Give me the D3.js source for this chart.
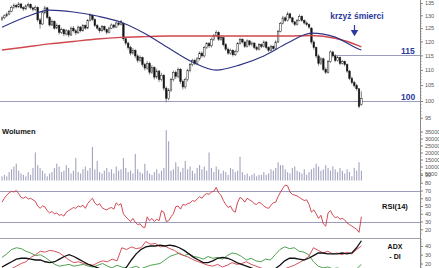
<!DOCTYPE html>
<html>
<head>
<meta charset="utf-8">
<script src="https://cdn.jsdelivr.net/npm/d3@7"></script>
<style>
  body { margin: 0; background: #fff; }
  #wrapper svg { display: block; font-family: "Liberation Sans", Arial, sans-serif; }
</style>
</head>
<body>
<div id="wrapper"></div>
<script>
// daily candles
const openPrices = [
  128.4, 129.0, 129.8, 130.5, 131.6, 133.2, 134.0, 133.4, 134.6, 133.1,
  132.6, 133.8, 134.3, 133.0, 132.4, 133.2, 128.2, 126.6, 131.0, 133.0,
  129.2, 126.2, 127.6, 125.0, 126.0, 123.4, 124.4, 122.8, 124.0, 122.4,
  125.0, 124.0, 123.2, 125.4, 124.0, 126.0, 125.0, 128.0, 130.0, 128.4,
  126.0, 125.0, 124.0, 125.6, 124.4, 123.4, 125.0, 126.2, 125.4, 127.0,
  126.4, 126.8, 121.0, 119.4, 117.8, 115.8, 116.8, 114.8, 113.2, 114.2,
  111.8, 110.6, 112.2, 109.2, 110.8, 107.6, 109.6, 106.8, 108.2, 104.0,
  100.8, 103.4, 106.8, 109.2, 107.8, 110.2, 106.2, 104.4, 106.8, 109.8,
  111.8, 113.2, 112.2, 113.8, 115.8, 114.8, 117.8, 119.2, 118.4, 120.8,
  122.2, 123.4, 120.8, 121.4, 118.8, 117.2, 115.8, 116.8, 115.2, 116.4,
  119.2, 120.8, 119.8, 118.2, 120.2, 118.8, 119.4, 117.8, 117.2, 118.8,
  118.2, 119.8, 117.8, 116.8, 118.2, 117.4, 119.8, 123.8, 126.8, 129.0,
  128.0, 130.6, 129.0, 127.4, 126.4, 128.0, 129.6, 128.0, 127.0, 126.4,
  125.0, 119.8, 117.8, 114.8, 112.2, 113.8, 110.2, 109.2, 112.8, 116.2,
  114.8, 113.2, 114.2, 112.2, 112.8, 111.8, 109.6, 107.2, 105.8, 104.8,
  103.8, 99.0,
]
const highPrices = [
  129.6, 130.4, 131.2, 132.2, 133.9, 134.9, 134.6, 135.4, 135.0, 133.6,
  134.4, 135.2, 134.8, 133.5, 134.0, 133.6, 129.0, 131.6, 133.8, 133.4,
  129.8, 128.4, 128.0, 126.8, 126.4, 125.2, 124.8, 124.6, 124.4, 125.6,
  125.8, 124.6, 126.0, 125.8, 126.6, 126.4, 128.6, 130.8, 130.4, 128.8,
  126.6, 125.4, 126.2, 126.0, 124.8, 125.6, 126.8, 126.6, 127.6, 127.4,
  128.2, 127.2, 121.6, 120.0, 118.4, 117.6, 117.2, 115.4, 115.0, 114.6,
  112.4, 113.0, 112.8, 111.6, 111.2, 110.4, 110.0, 109.0, 108.6, 104.6,
  104.0, 107.4, 109.8, 109.8, 110.8, 110.6, 106.8, 107.4, 110.4, 112.4,
  113.8, 113.8, 114.4, 116.4, 116.4, 118.4, 119.8, 119.8, 121.4, 122.8,
  124.2, 123.8, 122.2, 121.8, 119.4, 117.8, 117.4, 117.2, 117.0, 119.8,
  121.4, 121.2, 120.2, 120.8, 120.6, 120.0, 119.8, 118.4, 119.4, 119.2,
  120.4, 120.2, 118.2, 118.8, 118.6, 120.4, 124.4, 127.4, 129.8, 129.6,
  131.4, 131.0, 129.4, 127.8, 128.6, 130.4, 130.0, 128.4, 127.6, 126.8,
  125.4, 120.4, 118.2, 115.4, 114.4, 114.2, 110.8, 113.4, 116.8, 116.6,
  115.4, 114.8, 114.6, 113.4, 113.2, 112.2, 110.0, 107.8, 106.4, 105.4,
  104.0, 103.0,
]
const lowPrices = [
  127.8, 128.5, 129.3, 130.0, 131.2, 132.6, 132.8, 133.0, 132.6, 131.8,
  132.0, 133.2, 132.4, 131.6, 131.8, 127.4, 124.8, 126.2, 130.4, 128.6,
  125.6, 125.8, 124.4, 124.6, 122.6, 122.8, 122.0, 122.2, 121.6, 122.0,
  123.4, 122.4, 122.8, 123.4, 123.6, 124.4, 124.6, 127.6, 127.8, 125.4,
  124.4, 123.2, 123.6, 123.8, 122.6, 123.0, 124.6, 124.8, 125.0, 125.8,
  126.0, 120.2, 118.6, 117.0, 115.0, 115.2, 114.0, 112.4, 112.6, 111.0,
  109.8, 110.0, 108.4, 108.6, 106.8, 107.0, 106.0, 106.2, 103.2, 99.6,
  100.2, 102.8, 106.2, 107.0, 107.2, 105.4, 103.6, 103.8, 106.2, 109.2,
  111.2, 111.6, 111.6, 113.2, 114.2, 114.2, 117.2, 117.6, 117.8, 120.2,
  121.6, 120.2, 120.2, 118.2, 116.6, 115.2, 115.2, 114.6, 114.8, 116.0,
  118.8, 119.2, 117.6, 117.8, 118.2, 118.2, 117.2, 116.6, 116.8, 117.6,
  117.8, 117.2, 116.2, 116.4, 116.8, 117.0, 119.4, 123.4, 126.4, 127.4,
  127.6, 128.4, 126.8, 125.8, 126.0, 127.6, 127.4, 126.4, 125.8, 124.8,
  119.0, 117.0, 114.0, 111.4, 111.6, 109.6, 108.6, 108.8, 112.4, 114.2,
  112.6, 112.8, 111.6, 111.8, 111.2, 109.0, 106.6, 105.2, 104.2, 103.2,
  97.8, 98.6,
]
const closePrices = [
  129.0, 129.8, 130.5, 131.6, 133.2, 134.0, 133.4, 134.6, 133.1, 132.6,
  133.8, 134.3, 133.0, 132.4, 133.2, 128.2, 126.6, 131.0, 133.0, 129.2,
  126.2, 127.6, 125.0, 126.0, 123.4, 124.4, 122.8, 124.0, 122.4, 125.0,
  124.0, 123.2, 125.4, 124.0, 126.0, 125.0, 128.0, 130.0, 128.4, 126.0,
  125.0, 124.0, 125.6, 124.4, 123.4, 125.0, 126.2, 125.4, 127.0, 126.4,
  127.6, 121.0, 119.4, 117.8, 115.8, 116.8, 114.8, 113.2, 114.2, 111.8,
  110.6, 112.2, 109.2, 110.8, 107.6, 109.6, 106.8, 108.2, 104.0, 100.8,
  103.4, 106.8, 109.2, 107.8, 110.2, 106.2, 104.4, 106.8, 109.8, 111.8,
  113.2, 112.2, 113.8, 115.8, 114.8, 117.8, 119.2, 118.4, 120.8, 122.2,
  123.4, 120.8, 121.4, 118.8, 117.2, 115.8, 116.8, 115.2, 116.4, 119.2,
  120.8, 119.8, 118.2, 120.2, 118.8, 119.4, 117.8, 117.2, 118.8, 118.2,
  119.8, 117.8, 116.8, 118.2, 117.4, 119.8, 123.8, 126.8, 129.0, 128.0,
  130.6, 129.0, 127.4, 126.4, 128.0, 129.6, 128.0, 127.0, 126.4, 125.4,
  119.8, 117.8, 114.8, 112.2, 113.8, 110.2, 109.2, 112.8, 116.2, 114.8,
  113.2, 114.2, 112.2, 112.8, 111.8, 109.6, 107.2, 105.8, 104.8, 103.8,
  98.4, 100.8,
]
const volumes = [
  3000, 4000, 3000, 6000, 8000, 10000, 12000, 7000, 5000, 4000,
  3000, 6000, 4000, 9000, 20000, 11000, 9000, 7000, 5000, 3000,
  5000, 6000, 9000, 12000, 10000, 6000, 7000, 11000, 9000, 5000,
  7000, 16000, 6000, 5000, 8000, 10000, 7000, 9000, 24000, 8000,
  14000, 6000, 5000, 7000, 9000, 6000, 8000, 5000, 10000, 7000,
  8000, 16000, 9000, 6000, 7000, 5000, 19000, 8000, 6000, 5000,
  12000, 7000, 5000, 4000, 6000, 8000, 5000, 7000, 9000, 36000,
  28000, 7000, 8000, 13000, 10000, 6000, 9000, 14000, 8000, 10000,
  7000, 5000, 9000, 11000, 8000, 10000, 7000, 20000, 9000, 6000,
  10000, 8000, 5000, 7000, 6000, 4000, 9000, 8000, 6000, 7000,
  17000, 6000, 4000, 5000, 3000, 4000, 5000, 3000, 4000, 4000,
  6000, 4000, 5000, 8000, 7000, 9000, 13000, 11000, 11000, 8000,
  6000, 5000, 9000, 10000, 7000, 6000, 5000, 8000, 4000, 6000,
  8000, 9000, 12000, 10000, 7000, 8000, 11000, 9000, 7000, 10000,
  8000, 6000, 9000, 7000, 5000, 8000, 6000, 3000, 9000, 7000,
  13000, 7000,
]
const rsiValues = [
  55, 60, 64, 67, 69, 68, 70, 66, 61, 60,
  62, 59, 60, 58, 56, 50, 47, 50, 49, 44,
  41, 43, 40, 41, 38, 39, 37, 42, 44, 46,
  48, 47, 50, 49, 51, 47, 53, 57, 60, 54,
  51, 53, 48, 46, 45, 47, 48, 46, 54, 51,
  53, 40, 36, 33, 30, 34, 29, 26, 27, 23,
  22, 36, 31, 34, 30, 33, 31, 44, 42, 30,
  31, 36, 40, 49, 50, 46, 52, 51, 53, 54,
  57, 56, 59, 62, 60, 64, 66, 65, 68, 69,
  74, 67, 64, 57, 52, 48, 50, 44, 42, 55,
  61, 59, 55, 60, 58, 56, 53, 52, 55, 53,
  50, 48, 47, 51, 54, 55, 62, 68, 73, 77,
  76, 68, 65, 64, 63, 61, 59, 57, 58, 52,
  42, 45, 40, 34, 38, 27, 24, 41, 44, 38,
  35, 36, 33, 34, 32, 28, 26, 24, 22, 20,
  16, 36,
]

// moving averages, read every 10 sessions
const maDays = [0, 10, 20, 30, 40, 50, 60, 70, 80, 90, 100, 110, 120, 130, 140, 150, 151]
const maShort = [125.3, 129.3, 132.1, 131.3, 129.7, 127.3, 123.0, 117.6, 112.7, 109.9, 111.7, 114.8, 119.4, 123.1, 121.6, 117.2, 116.9]
const maLong = [116.9, 118.0, 119.1, 120.0, 120.9, 121.5, 121.8, 122.0, 122.0, 122.0, 122.0, 122.0, 122.0, 122.2, 121.2, 118.4, 118.0]

// ADX / DI, read every 2 sessions
const adxValues = [
  16, 19, 22, 25, 26, 26, 25, 24, 24, 22,
  21, 22, 25, 28, 30, 28, 25, 22, 19, 17,
  15, 13, 12, 11, 11, 12, 16, 24, 31, 36,
  39, 40, 40, 41, 40, 41, 40, 38, 35, 31,
  27, 24, 21, 21, 23, 26, 27, 26, 24, 21,
  19, 17, 15, 13, 12, 12, 12, 14, 18, 23,
  26, 26, 25, 24, 26, 29, 32, 32, 31, 31,
  31, 32, 31, 32, 38, 46,
]
const minusDI = [
  15, 13, 14, 17, 20, 22, 27, 30, 34, 33,
  35, 34, 32, 28, 24, 21, 22, 20, 19, 18,
  21, 23, 22, 25, 23, 38, 36, 39, 37, 38,
  45, 42, 43, 39, 40, 37, 35, 31, 29, 27,
  24, 22, 20, 18, 17, 19, 16, 18, 21, 19,
  20, 22, 19, 17, 15, 13, 12, 13, 12, 14,
  16, 18, 21, 24, 28, 38, 35, 32, 34, 31,
  32, 30, 33, 31, 36, 40,
]
const plusDI = [
  27, 31, 36, 38, 37, 34, 32, 29, 30, 27,
  23, 19, 17, 18, 19, 17, 18, 19, 17, 16,
  18, 20, 17, 15, 18, 16, 14, 15, 17, 14,
  16, 18, 19, 20, 24, 28, 30, 32, 29, 31,
  28, 27, 25, 28, 26, 27, 25, 29, 32, 31,
  28, 24, 26, 23, 22, 25, 24, 30, 36, 39,
  37, 38, 34, 33, 30, 22, 17, 15, 16, 14,
  15, 13, 14, 12, 14, 19,
]

// levels and ticks
const levelPrices = [115, 100]
const levelFromDay = [139, 0]
const priceTicks = [95, 100, 105, 110, 115, 120, 125, 130, 135]
const volumeTicks = [5000, 10000, 15000, 20000, 25000, 30000, 35000]
const rsiTicks = [20, 30, 40, 50, 60, 70, 80, 90]
const rsiLevels = [70, 30]
const adxTicks = [20, 30, 40]

function drawChart() {
  const n = closePrices.length
  const days = d3.range(n)

  const dimensions = {
    width: 439,
    height: 268,
    plotLeft: 2,
    plotRight: 361.4,
    axisX: 420,
  }

  const wrapper = d3.select("#wrapper")
    .append("svg")
      .attr("width", dimensions.width)
      .attr("height", dimensions.height)

  // scales
  const xScale = d3.scaleLinear()
    .domain([0, n - 1])
    .range([dimensions.plotLeft, dimensions.plotRight])
  const dmiX = d3.scaleLinear()
    .domain([0, adxValues.length - 1])
    .range([dimensions.plotLeft, dimensions.plotRight])
  const priceScale = d3.scaleLog()
    .domain([100, 135])
    .range([101, 3])
  const volumeScale = d3.scaleLinear()
    .domain([0, 35000])
    .range([180.5, 131.5])
  const rsiScale = d3.scaleLinear()
    .domain([30, 70])
    .range([221.5, 190.5])
  const adxScale = d3.scaleLinear()
    .domain([20, 40])
    .range([263.5, 246])

  const gridColor = "#9c9cbc"

  // horizontal levels
  wrapper.selectAll(".level")
    .data(levelPrices)
    .enter().append("line")
      .attr("x1", (d, i) => levelFromDay[i] == 0 ? 0 : xScale(levelFromDay[i]))
      .attr("x2", dimensions.axisX)
      .attr("y1", d => Math.round(priceScale(d)) + 0.5)
      .attr("y2", d => Math.round(priceScale(d)) + 0.5)
      .attr("stroke", gridColor)
      .attr("stroke-width", 1)

  wrapper.selectAll(".level-label")
    .data(levelPrices)
    .enter().append("text")
      .attr("x", 401)
      .attr("y", d => priceScale(d) - 1.5)
      .attr("font-size", 8.5)
      .attr("font-weight", "bold")
      .attr("fill", "#2b3a9c")
      .text(d => d)

  wrapper.selectAll(".rsi-level")
    .data(rsiLevels)
    .enter().append("line")
      .attr("x1", 0)
      .attr("x2", dimensions.axisX)
      .attr("y1", d => Math.round(rsiScale(d)) + 0.5)
      .attr("y2", d => Math.round(rsiScale(d)) + 0.5)
      .attr("stroke", gridColor)

  // separator above ADX panel
  wrapper.append("line")
      .attr("x1", 0)
      .attr("x2", dimensions.axisX)
      .attr("y1", 238.5)
      .attr("y2", 238.5)
      .attr("stroke", "#a0a0a8")

  // volume
  wrapper.selectAll(".vol")
    .data(days)
    .enter().append("rect")
      .attr("x", i => xScale(i) - 0.55)
      .attr("width", 1.1)
      .attr("y", i => volumeScale(volumes[i]))
      .attr("height", i => volumeScale(0) - volumeScale(volumes[i]))
      .attr("fill", "#a4a4c0")

  // candles
  const candles = wrapper.append("g")
  candles.selectAll(".wick")
    .data(days)
    .enter().append("line")
      .attr("x1", i => xScale(i))
      .attr("x2", i => xScale(i))
      .attr("y1", i => priceScale(highPrices[i]))
      .attr("y2", i => priceScale(lowPrices[i]))
      .attr("stroke", "#555")
      .attr("stroke-width", 0.7)

  candles.selectAll(".body")
    .data(days)
    .enter().append("rect")
      .attr("x", i => xScale(i) - 0.8)
      .attr("width", 1.6)
      .attr("y", i => priceScale(Math.max(openPrices[i], closePrices[i])))
      .attr("height", i => Math.max(0.6, Math.abs(priceScale(openPrices[i]) - priceScale(closePrices[i]))))
      .attr("fill", i => closePrices[i] < openPrices[i] ? "#111" : "#fff")
      .attr("stroke", "#222")
      .attr("stroke-width", 0.5)

  // moving averages
  const maLine = values => d3.line()
    .x((d, i) => xScale(maDays[i]))
    .y(d => priceScale(d))
    .curve(d3.curveMonotoneX)(values)

  wrapper.append("path")
      .attr("d", maLine(maLong))
      .attr("fill", "none")
      .attr("stroke", "#d0474d")
      .attr("stroke-width", 1.4)

  wrapper.append("path")
      .attr("d", maLine(maShort))
      .attr("fill", "none")
      .attr("stroke", "#2e3384")
      .attr("stroke-width", 1.1)

  // RSI
  wrapper.append("path")
      .attr("d", d3.line()
        .x((d, i) => xScale(i))
        .y(d => rsiScale(d))(rsiValues))
      .attr("fill", "none")
      .attr("stroke", "#cc3542")
      .attr("stroke-width", 0.9)

  // ADX panel
  const dmiLine = d3.line()
    .x((d, i) => dmiX(i))
    .y(d => adxScale(d))

  wrapper.append("path")
      .attr("d", dmiLine(plusDI))
      .attr("fill", "none")
      .attr("stroke", "#3c963c")
      .attr("stroke-width", 0.9)

  wrapper.append("path")
      .attr("d", dmiLine(minusDI))
      .attr("fill", "none")
      .attr("stroke", "#d0404a")
      .attr("stroke-width", 0.9)

  wrapper.append("path")
      .attr("d", dmiLine(adxValues))
      .attr("fill", "none")
      .attr("stroke", "#111")
      .attr("stroke-width", 1.3)

  // right axis
  const axisGroup = wrapper.append("g")
      .attr("transform", `translate(${dimensions.axisX}, 0)`)

  axisGroup.append("line")
      .attr("x1", 0.5)
      .attr("x2", 0.5)
      .attr("y1", 0)
      .attr("y2", dimensions.height)
      .attr("stroke", "#888")

  const styleAxis = g => {
    g.attr("font-family", "Liberation Sans, Arial, sans-serif")
    g.select(".domain").remove()
    g.selectAll(".tick line").attr("stroke", "#888")
    g.selectAll(".tick text")
      .attr("font-size", 5.5)
      .attr("fill", "#555")
  }

  const addAxis = (scale, ticks, minor) => {
    axisGroup.append("g")
      .call(d3.axisRight(scale).tickValues(minor).tickSize(1.5).tickFormat(""))
      .call(styleAxis)
    axisGroup.append("g")
      .call(d3.axisRight(scale).tickValues(ticks).tickSize(3).tickPadding(2).tickFormat(d3.format("d")))
      .call(styleAxis)
  }

  addAxis(priceScale, priceTicks, d3.range(95, 136))
  addAxis(volumeScale, volumeTicks, d3.range(0, 36000, 2500))
  addAxis(rsiScale, rsiTicks, d3.range(15, 95, 5))
  addAxis(adxScale, adxTicks, d3.range(14, 50, 2))

  // titles
  wrapper.append("text")
      .attr("x", 357)
      .attr("y", 19)
      .attr("text-anchor", "middle")
      .attr("font-size", 8.5)
      .attr("font-weight", "bold")
      .attr("fill", "#2b3a9c")
      .text("krzyż śmierci")

  wrapper.append("path")
      .attr("d", "M354.5,25V31M351.8,30.5L357.2,30.5L354.5,35Z")
      .attr("stroke", "#2b3a9c")
      .attr("stroke-width", 1.2)
      .attr("fill", "#2b3a9c")

  wrapper.append("text")
      .attr("x", 2)
      .attr("y", 133.5)
      .attr("font-size", 7.5)
      .attr("font-weight", "bold")
      .attr("fill", "#111")
      .text("Wolumen")

  wrapper.append("text")
      .attr("x", 382)
      .attr("y", 209)
      .attr("font-size", 7.5)
      .attr("font-weight", "bold")
      .attr("fill", "#111")
      .text("RSI(14)")

  wrapper.selectAll(".dmi-label")
    .data(["ADX", "- DI"])
    .enter().append("text")
      .attr("x", 395)
      .attr("y", (d, i) => 248.5 + i * 10)
      .attr("text-anchor", "middle")
      .attr("font-size", 7)
      .attr("font-weight", "bold")
      .attr("fill", "#111")
      .text(d => d)
}
drawChart()
</script>
</body>
</html>
